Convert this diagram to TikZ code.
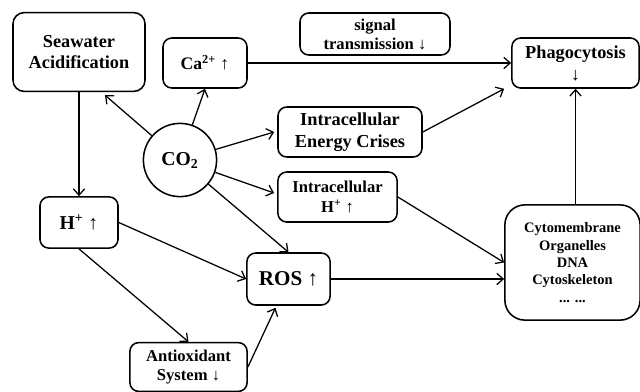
\documentclass[tikz,border=0pt]{standalone}
\usepackage{fontspec}
\setmainfont{Liberation Serif}
\usetikzlibrary{arrows.meta, calc}

\newcommand{\bigtxt}{\fontsize{13}{15.6}\selectfont\bfseries}
\newcommand{\midtxt}{\fontsize{11.8}{14}\selectfont\bfseries}
\newcommand{\smalltxt}{\fontsize{10.3}{12.3}\selectfont\bfseries}

\begin{document}
\begin{tikzpicture}[x=0.025cm, y=-0.025cm,
  box/.style={draw, line width=1.1pt, rounded corners=0.22cm, align=center, inner sep=1pt},
  link/.style={line width=0.9pt, -{Straight Barb[length=4.5pt, width=8pt]}}]
  \useasboundingbox (0,0) rectangle (640,391);

  % Left column
  \node[box, minimum width=3.3cm, minimum height=1.97cm, rounded corners=0.28cm, font=\bigtxt] (sea) at (79, 52) {Seawater\\Acidification};
  \node[box, minimum width=1.95cm, minimum height=1.28cm, font=\fontsize{14}{16}\selectfont\bfseries] (hplus) at (79, 222.5) {H\textsuperscript{+} ↑};
  \node[box, minimum width=2.93cm, minimum height=1.22cm, font=\midtxt] (anti) at (188.5, 367) {Antioxidant\\System ↓};

  % Carbon dioxide
  \node[draw, circle, line width=1.1pt, minimum size=1.83cm, font=\fontsize{14}{16}\selectfont\bfseries] (co2) at (180, 160) {CO\textsubscript{2}};

  % Middle column
  \node[box, minimum width=2.1cm, minimum height=1.25cm, font=\fontsize{12.5}{15}\selectfont\bfseries] (ca) at (205, 63) {Ca\textsuperscript{2+} ↑};
  \node[box, minimum width=3.75cm, minimum height=1.05cm, font=\fontsize{11.8}{13.5}\selectfont\bfseries] (sig) at (375, 34) {signal\\transmission ↓};
  \node[box, minimum width=3.6cm, minimum height=1.25cm, font=\bigtxt] (energy) at (350, 132) {Intracellular\\Energy Crises};
  \node[box, minimum width=2.98cm, minimum height=1.25cm, font=\midtxt] (intrah) at (337.5, 197) {Intracellular\\H\textsuperscript{+} ↑};
  \node[box, minimum width=2.08cm, minimum height=1.3cm, font=\fontsize{15}{17}\selectfont\bfseries] (ros) at (288.5, 279) {ROS ↑};

  % Right column
  \node[box, minimum width=3.18cm, minimum height=1.25cm, font=\bigtxt] (phago) at (575.5, 63) {Phagocytosis\\↓};
  \node[box, minimum width=3.38cm, minimum height=2.88cm, rounded corners=0.5cm, font=\smalltxt] (cyto) at (572.5, 262.5) {Cytomembrane\\Organelles\\DNA\\Cytoskeleton\\... ...};

  % From CO2
  \draw[link] (co2) -- ($(sea.south)+(26,3)$);
  \draw[link] (co2) -- (ca.south);
  \draw[link] (co2) -- ($(energy.west)+(-3,0)$);
  \draw[link] (co2) -- ($(intrah.west)+(-3,-4)$);
  \draw[link] (co2) -- (ros.north);

  % Acidification path
  \draw[link] (sea) -- (hplus);
  \draw[link] (hplus.east) -- (ros.west);
  \draw[link] (hplus.south) -- (anti.north);
  \draw[link] (anti.east) -- ($(ros.south)+(-13,2)$);

  % Towards phagocytosis
  \draw[link] (ca) -- (phago);
  \draw[link] (energy.east) -- ($(phago.south west)+(-7,0)$);
  \draw[link] (intrah.east) -- (cyto.west);
  \draw[link] (ros) -- (ros -| cyto.west);
  \draw[link] (phago |- cyto.north) -- (phago.south);
\end{tikzpicture}
\end{document}
